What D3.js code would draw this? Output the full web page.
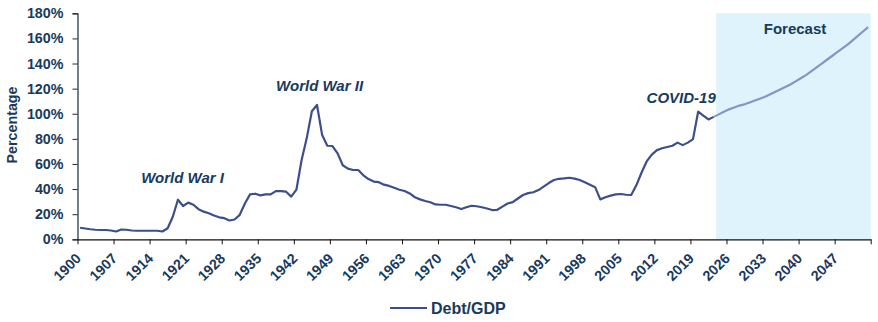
<!DOCTYPE html>
<html>
<head>
<meta charset="utf-8">
<script src="https://cdn.jsdelivr.net/npm/d3@7"></script>
<style>
  html, body { margin: 0; padding: 0; background: #fff; }
  svg { display: block; }
  text { font-family: "Liberation Sans", Arial, sans-serif; }
</style>
</head>
<body>
<svg id="chart" width="878" height="322"></svg>
<script>
// ---------------- DATA ----------------
const startYear = 1900;
const endYear = 2053;
// Historical Debt/GDP (%), 1900–2023
const historical = [
  9.2, 8.6, 8.0, 7.6, 7.4, 7.4, 7.0, 6.2, 7.8, 7.6,        // 1900-1909
  7.0, 6.8, 6.8, 6.8, 6.8, 6.8, 6.2, 8.8, 18, 31.5,        // 1910-1919
  26.5, 29.2, 27.5, 24, 22, 20.8, 19, 17.5, 16.8, 15,      // 1920-1929
  15.8, 19.5, 28.5, 35.8, 36.3, 35, 35.8, 35.8, 38.4, 38.4,// 1930-1939
  37.9, 34, 39.5, 63, 80.4, 102, 107, 83, 74.5, 74.3,      // 1940-1949
  68.4, 59, 56.3, 55.2, 55.2, 51, 48, 46, 45.5, 43.5,      // 1950-1959
  42.5, 41, 39.5, 38.5, 36.5, 33.5, 31.8, 30.5, 29.5, 27.8,// 1960-1969
  27.5, 27.5, 26.5, 25.5, 24.1, 25.5, 26.7, 26.3, 25.5, 24.5,// 1970-1979
  23.3, 23.5, 26, 28.5, 29.6, 32.5, 35.3, 36.8, 37.5, 39.2,// 1980-1989
  42, 44.8, 47.2, 48.2, 48.5, 49, 48.3, 47.2, 45.5, 43.5,  // 1990-1999
  41.5, 31.8, 33.5, 34.8, 35.8, 36.1, 35.5, 35.3, 43, 53,  // 2000-2009
  62, 67.5, 71, 72.5, 73.5, 74.5, 77, 75, 77, 79.8,        // 2010-2019
  101.6, 98.5, 95.5, 97.5                                  // 2020-2023
];
// Forecast Debt/GDP (%), 2023–2053
const forecastStart = 2023;
const forecast = [
  97.5, 99.5, 101.5, 103.5, 105, 106.5, 107.5,             // 2023-2029
  109, 110.5, 112, 113.5, 115.5, 117.5, 119.5, 121.5, 123.5, 126, // 2030-2039
  128.5, 131, 134, 137, 140, 143, 146, 149, 152, 155,      // 2040-2049
  158.5, 162, 165.5, 169                                   // 2050-2053
];
const shadeFromYear = 2024;
const xTickLabels = ["1900","1907","1914","1921","1928","1935","1942","1949","1956","1963","1970",
  "1977","1984","1991","1998","2005","2012","2019","2026","2033","2040","2047"];
const yTicks = [0, 20, 40, 60, 80, 100, 120, 140, 160, 180];
const annotations = [
  { text: "World War I", year: 1920.4, value: 44.8, italic: true },
  { text: "World War II", year: 1947.0, value: 118.4, italic: true },
  { text: "COVID-19", year: 2017.2, value: 108.2, italic: true },
  { text: "Forecast", year: 2039.3, value: 163.2, italic: false }
];
const seriesName = "Debt/GDP";

// ---------------- STYLE ----------------
const textColor = "#173a5e";
const lineColor = "#3c4f8c";
const forecastColor = "#8396c4";
const shadeColor = "#def3fc";

// ---------------- SCALES ----------------
const years = d3.range(startYear, endYear + 1);
const x = d3.scaleBand().domain(years).range([77.5, 870.7]).padding(0);
const xc = yr => x(yr) + x.bandwidth() / 2;
const y = d3.scaleLinear().domain([0, 180]).range([239.3, 13.3]);
const xLin = d3.scaleLinear().domain([startYear, endYear + 1]).range(x.range());

const svg = d3.select("#chart");

// forecast shading
svg.append("rect")
  .attr("x", x(shadeFromYear))
  .attr("y", y(180))
  .attr("width", x.range()[1] - x(shadeFromYear))
  .attr("height", y(0) - y(180))
  .attr("fill", shadeColor);

// Y axis
const yAxis = d3.axisLeft(y).tickValues(yTicks).tickFormat(d => d + "%").tickSize(5).tickPadding(9);
const gy = svg.append("g").attr("transform", `translate(${x.range()[0]},0)`).call(yAxis);
gy.select(".domain").attr("stroke", "#1d2b36").attr("stroke-width", 1.2);
gy.selectAll(".tick line").attr("stroke", "#1d2b36");
gy.selectAll(".tick text")
  .attr("fill", textColor)
  .attr("font-size", 14.3)
  .attr("font-weight", "bold")
  .attr("font-family", "'Liberation Sans', Arial, sans-serif");

// X axis (ticks at category boundaries every 7 years)
const tickYears = xTickLabels.map(Number);
const xAxis = d3.axisBottom(xLin)
  .tickValues(tickYears.concat([endYear + 1]))
  .tickFormat(d => xTickLabels.includes(String(d)) ? String(d) : "")
  .tickSize(5).tickSizeOuter(0);
const gx = svg.append("g").attr("transform", `translate(0,${y(0)})`).call(xAxis);
gx.select(".domain").attr("stroke", "#111").attr("stroke-width", 1.2);
gx.selectAll(".tick line").attr("stroke", "#111");
gx.selectAll(".tick text")
  .attr("fill", textColor)
  .attr("font-size", 14.3)
  .attr("font-weight", "bold")
  .attr("font-family", "'Liberation Sans', Arial, sans-serif")
  .attr("text-anchor", "end")
  .attr("dy", null)
  .attr("y", 0)
  .attr("transform", "translate(4,20) rotate(-45)");

// lines
const histData = historical.map((v, i) => ({ year: startYear + i, value: v }));
const foreData = forecast.map((v, i) => ({ year: forecastStart + i, value: v }));
const line = d3.line().x(d => xc(d.year)).y(d => y(d.value));

svg.append("path").datum(foreData)
  .attr("d", line).attr("fill", "none")
  .attr("stroke", forecastColor).attr("stroke-width", 2.2)
  .attr("stroke-linejoin", "round");
svg.append("path").datum(histData)
  .attr("d", line).attr("fill", "none")
  .attr("stroke", lineColor).attr("stroke-width", 2.2)
  .attr("stroke-linejoin", "round");

// annotations
svg.selectAll(".ann").data(annotations).enter().append("text")
  .attr("class", "ann")
  .attr("x", d => xLin(d.year))
  .attr("y", d => y(d.value))
  .attr("text-anchor", "middle")
  .attr("fill", textColor)
  .attr("font-size", 15)
  .attr("font-weight", "bold")
  .attr("font-style", d => d.italic ? "italic" : "normal")
  .text(d => d.text);

// Y axis title
svg.append("text")
  .attr("transform", `translate(17,125) rotate(-90)`)
  .attr("text-anchor", "middle")
  .attr("fill", textColor)
  .attr("font-size", 14.3)
  .attr("font-weight", "bold")
  .text("Percentage");

// legend
const lg = svg.append("g").attr("transform", "translate(390,308)");
lg.append("line").attr("x1", 0).attr("x2", 37).attr("y1", 0).attr("y2", 0)
  .attr("stroke", lineColor).attr("stroke-width", 2.2);
lg.append("text").attr("x", 41).attr("y", 5.5)
  .attr("fill", textColor)
  .attr("font-size", 16)
  .attr("font-weight", "bold")
  .attr("font-family", "Lato, 'Liberation Sans', sans-serif")
  .text(seriesName);
</script>
</body>
</html>
